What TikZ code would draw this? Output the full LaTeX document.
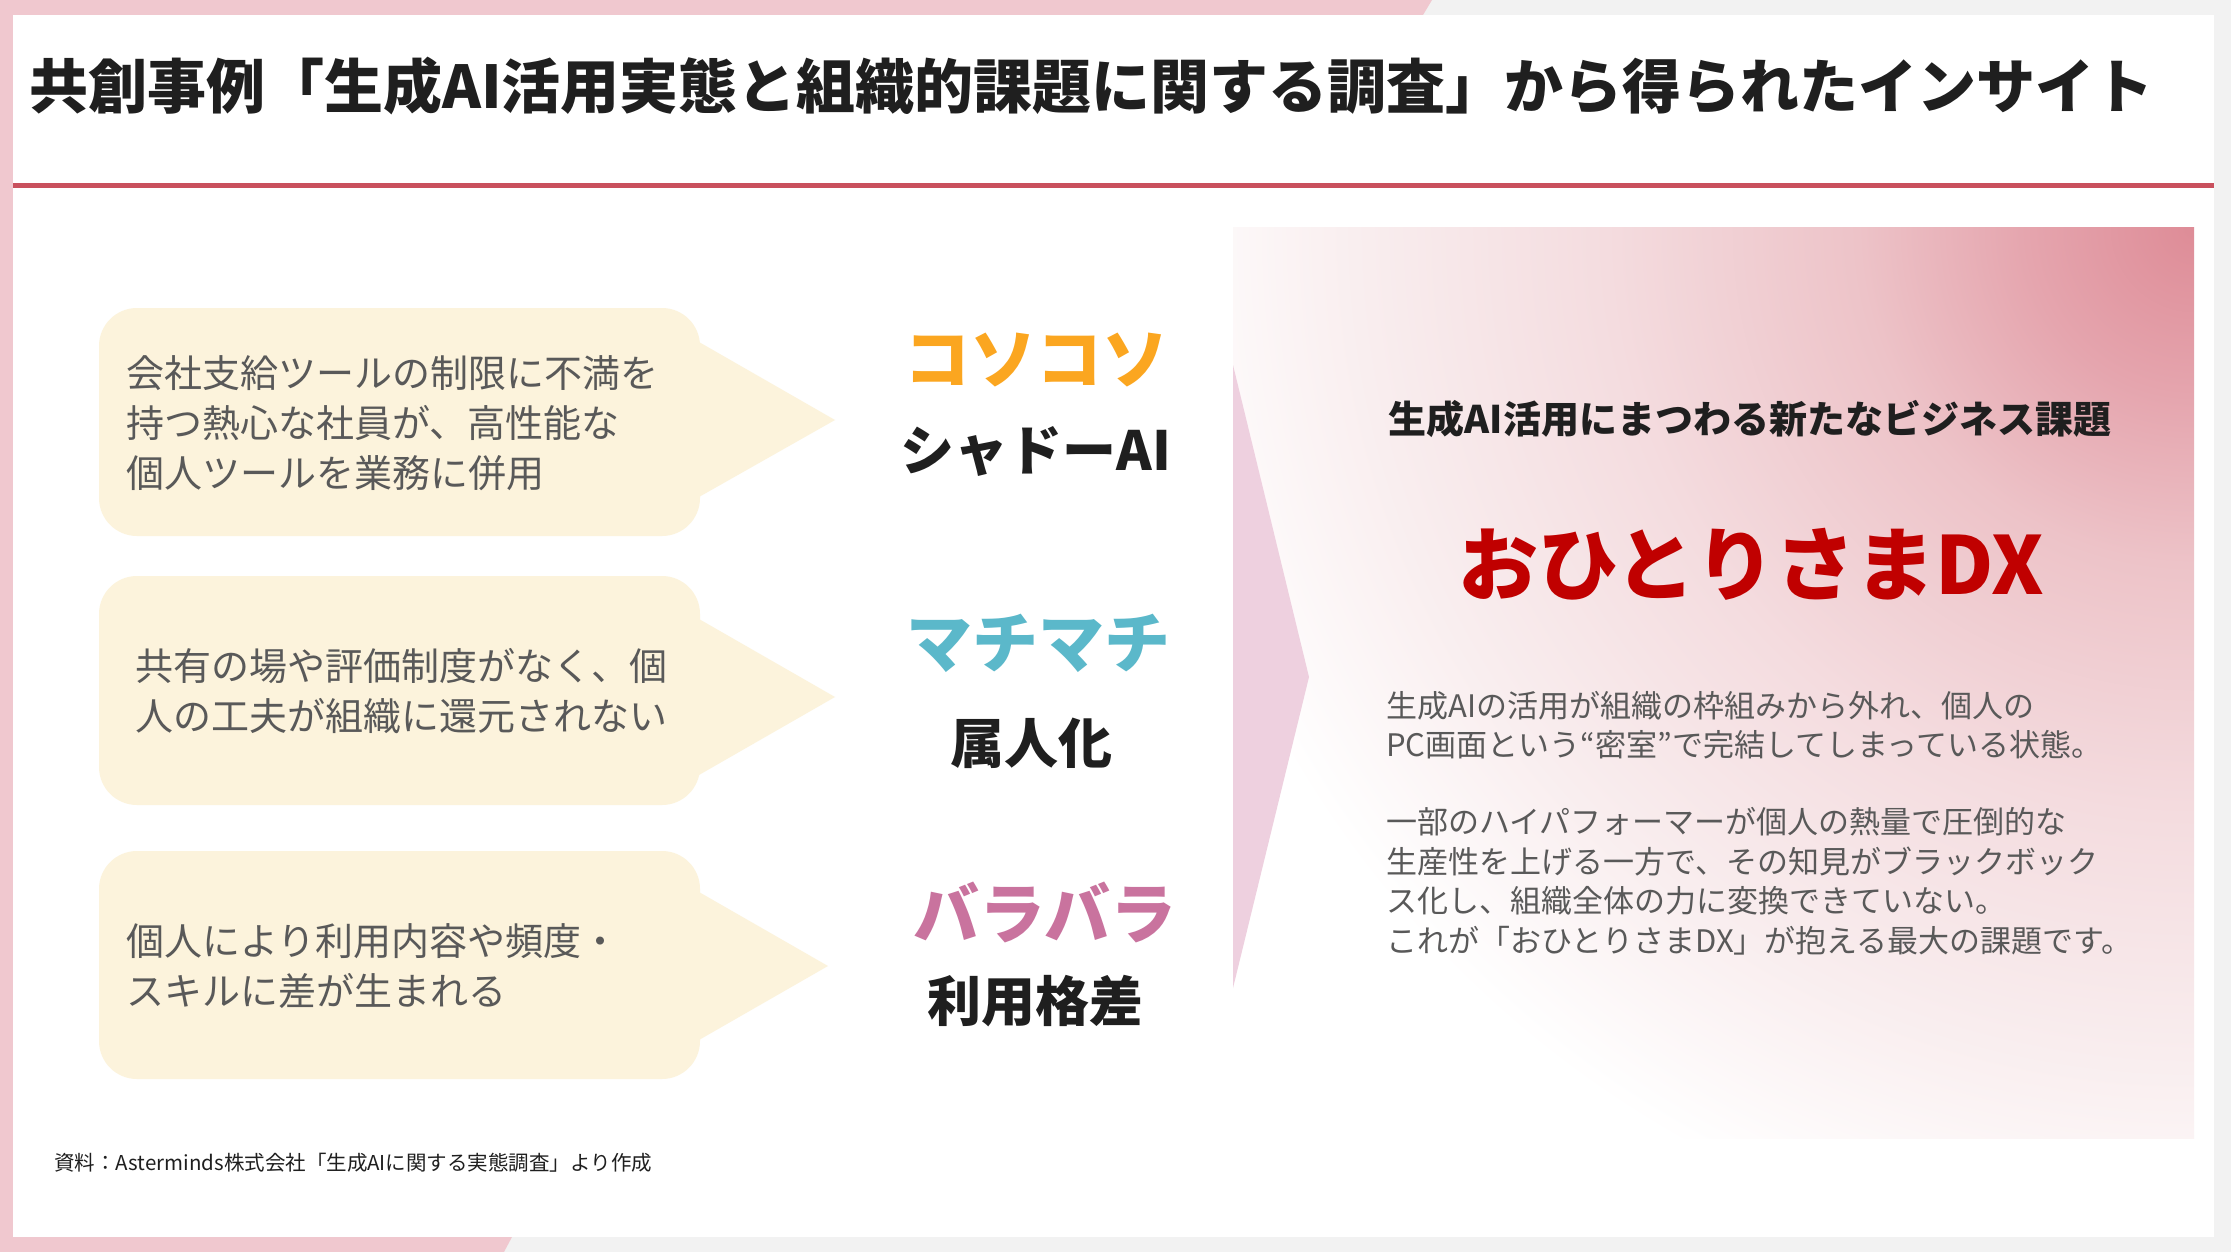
\documentclass[tikz,border=0pt]{standalone}
\usepackage{fontspec}
\newfontfamily\jp{Noto Sans CJK JP}
\definecolor{bggray}{HTML}{F2F2F2}
\definecolor{bandpink}{HTML}{F0C8CF}
\definecolor{redline}{HTML}{C9505D}
\definecolor{cream}{HTML}{FCF3DC}
\definecolor{txtgray}{HTML}{595959}
\definecolor{txtdark}{HTML}{1F1F1F}
\definecolor{korange}{HTML}{FBA620}
\definecolor{kteal}{HTML}{5BB8CA}
\definecolor{kpink}{HTML}{C9739E}
\definecolor{arrowpink}{HTML}{EED0DF}
\definecolor{dxred}{HTML}{C00000}
\definecolor{gA}{HTML}{DE8C97}
\definecolor{gB}{HTML}{E5A5AE}
\definecolor{gC}{HTML}{EDC3C8}
\definecolor{gD}{HTML}{F4DCDF}
\definecolor{gE}{HTML}{F9EEEF}
\pgfdeclareradialshading{pinkrad}{\pgfpoint{0bp}{0bp}}{color(0bp)=(gA); color(4bp)=(gB); color(8bp)=(gC); color(14bp)=(gD); color(20bp)=(gE); color(25bp)=(white); color(100bp)=(white)}
\begin{document}
\begin{tikzpicture}[x=1pt,y=-1pt,
  ctext/.style={font=\jp\fontsize{38}{50}\selectfont, text=txtgray, align=left, anchor=west, inner sep=0pt},
  bigkana/.style={font=\jp\bfseries\fontsize{66}{70}\selectfont, inner sep=0pt},
  sublbl/.style={font=\jp\bfseries\fontsize{54}{60}\selectfont, text=txtdark, inner sep=0pt},
  bodytxt/.style={font=\jp\fontsize{31}{39.5}\selectfont, text=txtgray, align=left, anchor=west, inner sep=0pt},
  callbody/.style={fill=cream, rounded corners=38pt}]
\useasboundingbox (0,0) rectangle (2231,1252);
% background
\fill[bggray] (0,0) rectangle (2231,1252);
\fill[bandpink] (0,0) -- (1432,0) -- (1423,15) -- (13,15) -- (13,1237) -- (512,1237) -- (504,1252) -- (0,1252) -- cycle;
\fill[white] (13,15) rectangle (2214,1237);
\fill[redline] (13,183) rectangle (2214,188);
% title
\node[font=\jp\bfseries\fontsize{59}{70}\selectfont, text=txtdark, anchor=west, inner sep=0pt] (title) at (29,86) {共創事例「生成AI活用実態と組織的課題に関する調査」から得られたインサイト};
% callouts
\fill[callbody] (99,308) rectangle (700,536);
\fill[cream] (699,342) -- (835,420) -- (699,497) -- cycle;
\fill[callbody] (99,576) rectangle (700,805);
\fill[cream] (699,619) -- (835,697) -- (699,775) -- cycle;
\fill[callbody] (99,851) rectangle (700,1079);
\fill[cream] (699,892) -- (828,966) -- (699,1040) -- cycle;
\node[ctext] (c1) at (126,423) {会社支給ツールの制限に不満を\\持つ熱心な社員が、高性能な\\個人ツールを業務に併用};
\node[ctext] (c2) at (135,691) {共有の場や評価制度がなく、個\\人の工夫が組織に還元されない};
\node[ctext] (c3) at (126,966) {個人により利用内容や頻度・\\スキルに差が生まれる};
% middle labels
\node[bigkana, text=korange] (k1) at (1036,360) {コソコソ};
\node[sublbl] (s1) at (1036,451) {シャドーAI};
\node[bigkana, text=kteal] (k2) at (1038,643) {マチマチ};
\node[sublbl] (s2) at (1031,743) {属人化};
\node[bigkana, text=kpink] (k3) at (1045,912) {バラバラ};
\node[sublbl] (s3) at (1035,1001) {利用格差};
% right panel
\begin{scope}
\clip (1233,228) rectangle (2194,1138);
\fill[white] (1233,228) rectangle (2194,1138);
\shade[shading=pinkrad] (2194,228) circle[radius=1050pt];
\end{scope}
\fill[arrowpink] (1233,365) -- (1309,677) -- (1233,988) -- cycle;
\node[font=\jp\bfseries\fontsize{38}{40}\selectfont, text=txtdark, inner sep=0pt] (sub) at (1750,419) {生成AI活用にまつわる新たなビジネス課題};
\node[font=\jp\bfseries\fontsize{80}{86}\selectfont, text=dxred, inner sep=0pt] (dx) at (1751,564) {おひとりさまDX};
\node[bodytxt] (p1) at (1386,725) {生成AIの活用が組織の枠組みから外れ、個人の\\PC画面という“密室”で完結してしまっている状態。};
\node[bodytxt] (p2) at (1386,881) {一部のハイパフォーマーが個人の熱量で圧倒的な\\生産性を上げる一方で、その知見がブラックボック\\ス化し、組織全体の力に変換できていない。\\これが「おひとりさまDX」が抱える最大の課題です。};
% footnote
\node[font=\jp\fontsize{20.5}{24}\selectfont, text=txtdark, anchor=west, inner sep=0pt] (src) at (54,1163) {資料：Asterminds株式会社「生成AIに関する実態調査」より作成};
\end{tikzpicture}
\end{document}
